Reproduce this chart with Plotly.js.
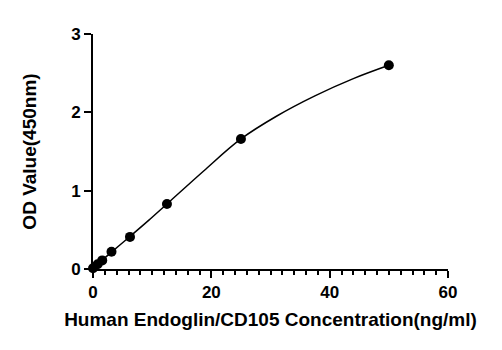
<!DOCTYPE html>
<html><head><meta charset="utf-8">
<script src="https://cdn.plot.ly/plotly-3.0.1.min.js"></script>
<style>html,body{margin:0;padding:0;background:#fff}#c{width:502px;height:350px}</style>
</head><body><div id="c"></div>
<script>
// Measured standards
const concentration = [0, 0.78, 1.56, 3.125, 6.25, 12.5, 25, 50];
const odValue = [0.01, 0.06, 0.11, 0.22, 0.41, 0.83, 1.66, 2.60];
// Fitted curve
const fitConcentration = [0, 3.125, 6.25, 9.4, 12.5, 18.75, 25, 31, 37.5, 44, 50];
const fitOd = [0.01, 0.215, 0.415, 0.62, 0.83, 1.255, 1.66, 1.95, 2.21, 2.43, 2.60];
const xTicks = [0, 20, 40, 60];
const yTicks = [0, 1, 2, 3];

const font = {family: 'Liberation Sans, Arial, sans-serif', color: '#000'};
const traces = [
  {x: fitConcentration, y: fitOd, mode: 'lines', type: 'scatter',
   line: {color: '#000', width: 1.5, shape: 'spline', smoothing: 1}, hoverinfo: 'skip', cliponaxis: false},
  {x: concentration, y: odValue, mode: 'markers', type: 'scatter',
   marker: {color: '#000', size: 10}, cliponaxis: false}
];
const layout = {
  width: 502, height: 350, showlegend: false,
  paper_bgcolor: '#fff', plot_bgcolor: '#fff',
  margin: {l: 93, r: 54, t: 34, b: 81},
  font: Object.assign({size: 17}, font),
  xaxis: {range: [0, 60], tickvals: xTicks, ticktext: xTicks.map(v => '<b>' + v + '</b>'),
    showgrid: false, zeroline: false, showline: true, linewidth: 2, linecolor: '#000',
    ticks: 'outside', ticklen: 7, tickwidth: 2, tickcolor: '#000',
    minor: {dtick: 2, tick0: 0, ticks: 'outside', ticklen: 4, tickwidth: 2, tickcolor: '#000', showgrid: false},
    tickfont: Object.assign({size: 17}, font),
    title: {text: '<b>Human Endoglin/CD105 Concentration(ng/ml)</b>', font: Object.assign({size: 19}, font), standoff: 11}},
  yaxis: {range: [0, 3], tickvals: yTicks, ticktext: yTicks.map(v => '<b>' + v + '</b>'),
    showgrid: false, zeroline: false, showline: true, linewidth: 2, linecolor: '#000',
    ticks: 'outside', ticklen: 7, tickwidth: 2, tickcolor: '#000',
    tickfont: Object.assign({size: 17}, font),
    title: {text: '<b>OD Value(450nm)</b>', font: Object.assign({size: 19}, font), standoff: 29}}
};
Plotly.newPlot('c', traces, layout, {displayModeBar: false, staticPlot: true});
</script></body></html>
